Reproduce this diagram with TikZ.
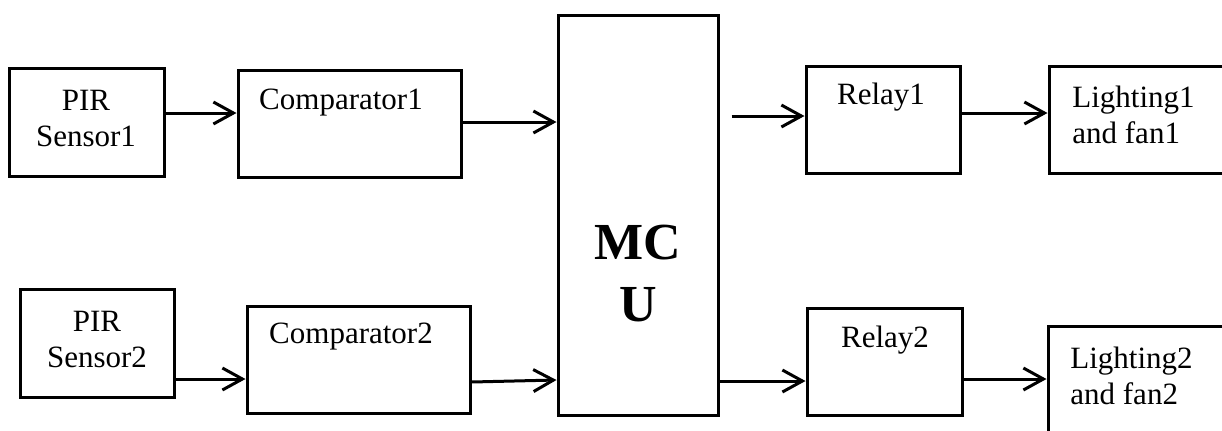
\documentclass[tikz,border=0pt]{standalone}
\usepackage{fontspec}
\setmainfont{Liberation Serif}
\usetikzlibrary{arrows.meta}

\begin{document}
\begin{tikzpicture}[x=0.5pt,y=-0.5pt,
    blk/.style={draw, rectangle, line width=1.5pt, inner sep=0pt},
    txt/.style={inner sep=0pt, align=center, font=\fontsize{15.5}{18}\selectfont},
    arr/.style={line width=1.5pt, -{Straight Barb[length=10pt,width=11pt]}}]
    \useasboundingbox (0,0) rectangle (1222,430);

    % Input side: sensors and comparators
    \node[blk, minimum width=77.5pt, minimum height=54pt] (pir1) at (86.5,122) {};
    \node[txt] (pir1txt) at (86,118) {PIR\\Sensor1};
    \node[blk, minimum width=111.5pt, minimum height=53.5pt] (cmp1) at (349.5,123.5) {};
    \node[txt] (cmp1txt) at (341,103) {Comparator1};

    \node[blk, minimum width=77pt, minimum height=54pt] (pir2) at (97,343) {};
    \node[txt] (pir2txt) at (97,339.5) {PIR\\Sensor2};
    \node[blk, minimum width=111.5pt, minimum height=53.5pt] (cmp2) at (358.5,359.5) {};
    \node[txt] (cmp2txt) at (351,337) {Comparator2};

    % Controller
    \node[blk, minimum width=80pt, minimum height=200pt] (mcu) at (638,215) {};
    \node[inner sep=0pt, align=center, font=\fontsize{26}{31}\selectfont\bfseries] (mcutxt) at (638,274) {MC\\U};

    % Output side: relays and loads
    \node[blk, minimum width=77pt, minimum height=53.5pt] (rly1) at (883,119.5) {};
    \node[txt] (rly1txt) at (881,97) {Relay1};
    \node[blk, minimum width=88pt, minimum height=53.5pt] (lit1) at (1137,119.5) {};
    \node[txt, align=left, anchor=west] (lit1txt) at (1072,115) {Lighting1\\and fan1};

    \node[blk, minimum width=77.5pt, minimum height=53.5pt] (rly2) at (884.5,361.5) {};
    \node[txt] (rly2txt) at (885,340) {Relay2};
    \node[blk, minimum width=88.5pt, minimum height=60pt] (lit2) at (1136.5,386) {};
    \node[txt, align=left, anchor=west] (lit2txt) at (1070,376) {Lighting2\\and fan2};

    % Signal flow
    \draw[arr] (pir1.east |- 0,113) -- (cmp1.west |- 0,113);
    \draw[arr] (cmp1.east |- 0,122) -- (mcu.west |- 0,122);
    \draw[arr] (pir2.east |- 0,379) -- (cmp2.west |- 0,379);
    \draw[arr] (cmp2.east |- 0,382) -- (mcu.west |- 0,380);
    \draw[arr] ([xshift=6pt]mcu.east |- 0,116) -- (rly1.west |- 0,116);
    \draw[arr] (rly1.east |- 0,113) -- (lit1.west |- 0,113);
    \draw[arr] (mcu.east |- 0,381) -- (rly2.west |- 0,381);
    \draw[arr] (rly2.east |- 0,379) -- (lit2.west |- 0,379);
\end{tikzpicture}
\end{document}
